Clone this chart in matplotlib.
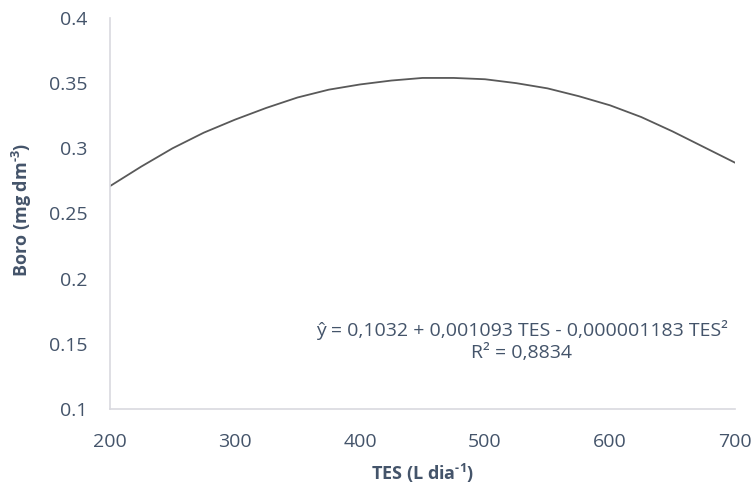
import matplotlib
matplotlib.use("Agg")
import matplotlib.pyplot as plt

# values
tes = [200, 225, 250, 275, 300, 325, 350, 375, 400, 425, 450,
       475, 500, 525, 550, 575, 600, 625, 650, 675, 700]
boro = [0.271, 0.286, 0.300, 0.312, 0.322, 0.331, 0.339, 0.345, 0.349, 0.352, 0.354,
        0.354, 0.353, 0.350, 0.346, 0.340, 0.333, 0.324, 0.313, 0.301, 0.289]
xticks = [200, 300, 400, 500, 600, 700]
yticks = [0.1, 0.15, 0.2, 0.25, 0.3, 0.35, 0.4]
ylabels = ['0.1', '0.15', '0.2', '0.25', '0.3', '0.35', '0.4']

plt.rcParams['font.family'] = ['Open Sans', 'DejaVu Sans']
# only the axis titles use mathtext (bold superscripts)
plt.rcParams['mathtext.fontset'] = 'custom'
plt.rcParams['mathtext.rm'] = 'Open Sans:bold'
plt.rcParams['mathtext.bf'] = 'Open Sans:bold'
txt = '#44546A'
spine = '#D9D9DF'

fig = plt.figure(figsize=(7.55, 4.9), dpi=100)
ax = fig.add_axes([0.1457, 0.1653, 0.8278, 0.798])

ax.plot(tes, boro, color='#595959', lw=1.3)

ax.set_xlim(200, 700)
ax.set_ylim(0.1, 0.4)
ax.set_xticks(xticks)
ax.set_yticks(yticks)
ax.set_yticklabels(ylabels)
ax.tick_params(length=0, labelsize=14, colors=txt)
ax.tick_params(axis='y', pad=16)
ax.tick_params(axis='x', pad=17)

for s in ['top', 'right']:
    ax.spines[s].set_visible(False)
for s in ['left', 'bottom']:
    ax.spines[s].set_color(spine)
    ax.spines[s].set_linewidth(1.2)

ax.set_xlabel(r'TES (L dia$^{\text{-1}}$)', fontsize=13, fontweight='bold', color=txt, labelpad=8)
ax.set_ylabel(r'Boro (mg dm$^{\text{-3}}$)', fontsize=13, fontweight='bold', color=txt)
ax.yaxis.set_label_coords(-0.122, 0.51)

ax.text(0.659, 0.202, 'ŷ = 0,1032 + 0,001093 TES - 0,000001183 TES²',
        transform=ax.transAxes, ha='center', va='center', fontsize=14, color=txt)
ax.text(0.659, 0.143, 'R² = 0,8834',
        transform=ax.transAxes, ha='center', va='center', fontsize=14, color=txt)

fig.savefig('out.png', dpi=100)
